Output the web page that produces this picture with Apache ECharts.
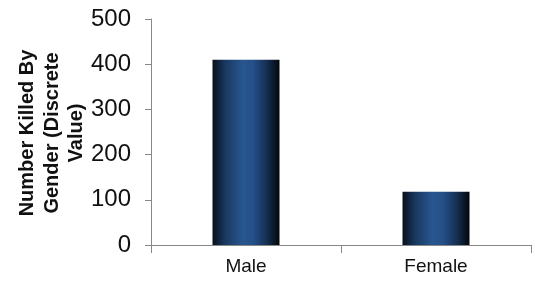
<!DOCTYPE html>
<html><head><meta charset="utf-8">
<script src="https://cdn.jsdelivr.net/npm/echarts@6/dist/echarts.min.js"></script>
<style>html,body{margin:0;padding:0;background:#fff}#c{width:542px;height:285px}</style>
</head><body><div id="c"></div>
<script>
const categories = ['Male', 'Female'];
const killed = [410, 118];
const yTicks = [0, 100, 200, 300, 400, 500];
const yTitle = 'Number Killed By\nGender (Discrete\nValue)';

const chart = echarts.init(document.getElementById('c'), null, {renderer: 'canvas'});
chart.setOption({
  animation: false,
  backgroundColor: '#fff',
  grid: {left: 151, right: 11, top: 19, bottom: 40},
  xAxis: {
    type: 'category', data: categories,
    axisLine: {lineStyle: {color: '#888', width: 1}},
    axisTick: {show: true, length: 8, lineStyle: {color: '#888'}},
    axisLabel: {color: '#111', fontFamily: 'Liberation Sans, Arial', fontSize: 19, margin: 12}
  },
  yAxis: {
    type: 'value', min: yTicks[0], max: yTicks[yTicks.length - 1], interval: 100,
    axisLine: {show: true, lineStyle: {color: '#888', width: 1}},
    axisTick: {show: true, length: 6, lineStyle: {color: '#888'}},
    splitLine: {show: false},
    axisLabel: {color: '#111', fontFamily: 'Liberation Sans, Arial', fontSize: 24, margin: 20}
  },
  series: [{
    type: 'bar', data: killed, barWidth: 67,
    itemStyle: {
      color: new echarts.graphic.LinearGradient(0, 0, 1, 0, [
        {offset: 0, color: '#08111c'},
        {offset: 0.2, color: '#1a3a62'},
        {offset: 0.45, color: '#28568f'},
        {offset: 0.6, color: '#25508a'},
        {offset: 0.8, color: '#163156'},
        {offset: 1, color: '#03060a'}
      ])
    }
  }],
  graphic: [{
    type: 'text', x: 52, y: 133, rotation: Math.PI / 2,
    style: {
      text: yTitle, fill: '#111', fontFamily: 'Liberation Sans, Arial',
      fontWeight: 'bold', fontSize: 20, lineHeight: 24.5,
      align: 'center', verticalAlign: 'middle'
    }
  }]
});
</script></body></html>
